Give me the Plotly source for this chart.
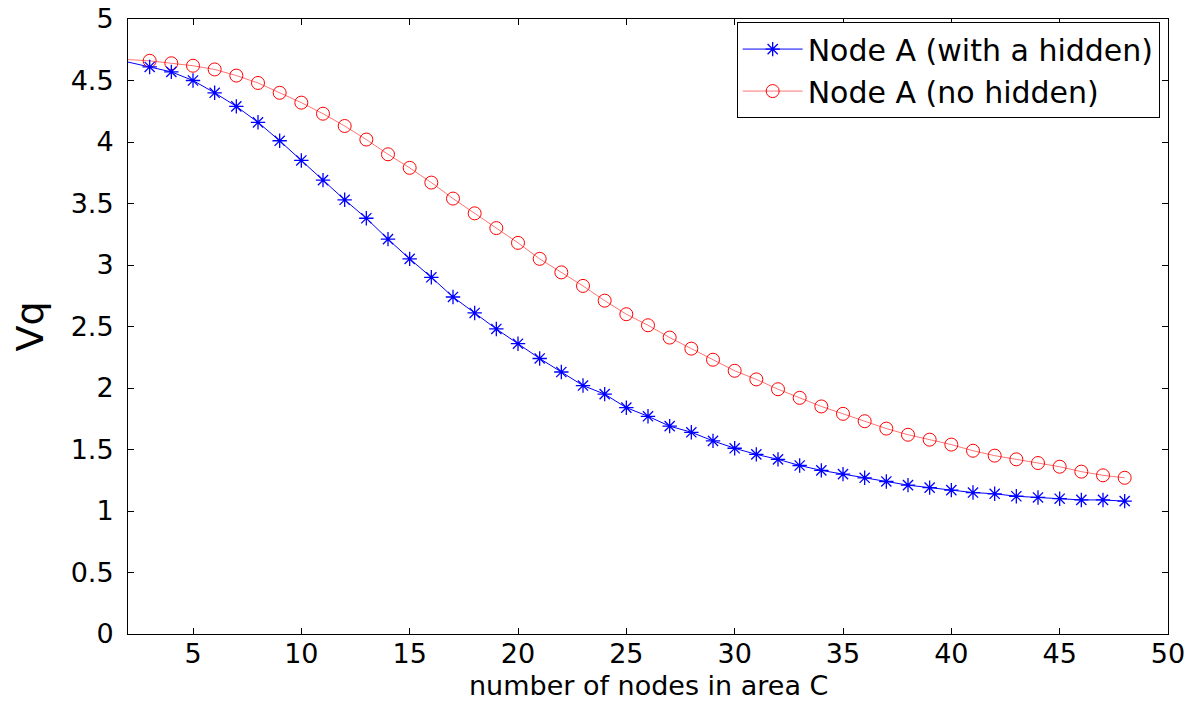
import plotly.graph_objects as go

# ---- data ----
nodes = list(range(3, 49))
with_hidden = [4.61, 4.57, 4.50, 4.40, 4.29, 4.16, 4.01, 3.85, 3.69, 3.53,
               3.38, 3.21, 3.05, 2.90, 2.74, 2.61, 2.48, 2.36, 2.24, 2.13,
               2.02, 1.95, 1.84, 1.77, 1.69, 1.64, 1.57, 1.51, 1.46, 1.42,
               1.37, 1.33, 1.30, 1.27, 1.24, 1.21, 1.19, 1.17, 1.15, 1.14,
               1.12, 1.11, 1.10, 1.09, 1.09, 1.08]
no_hidden = [4.66, 4.64, 4.62, 4.59, 4.54, 4.48, 4.40, 4.32, 4.23, 4.13,
             4.02, 3.90, 3.79, 3.67, 3.54, 3.42, 3.30, 3.18, 3.05, 2.94,
             2.83, 2.71, 2.60, 2.51, 2.41, 2.32, 2.23, 2.14, 2.07, 1.99,
             1.92, 1.85, 1.79, 1.73, 1.67, 1.62, 1.58, 1.54, 1.49, 1.45,
             1.42, 1.39, 1.36, 1.32, 1.29, 1.27]
# line start at the left edge of the axis (x = 2)
line_start_x = 2
with_hidden_start = 4.65
no_hidden_start = 4.67

x_ticks = [5, 10, 15, 20, 25, 30, 35, 40, 45, 50]
y_ticks = [0, 0.5, 1, 1.5, 2, 2.5, 3, 3.5, 4, 4.5, 5]
y_tick_text = ["0", "0.5", "1", "1.5", "2", "2.5", "3", "3.5", "4", "4.5", "5"]

names = ["Node A (with a hidden)", "Node A (no hidden)"]
x_title = "number of nodes in area C"
y_title = "Vq"

FONT = "DejaVu Sans"
BLUE = "#0000ff"
RED = "#ff0000"
RED_LINE = "rgba(255,0,0,0.55)"

fig = go.Figure()

# short leading segments (no markers) from x=2 to the first point
fig.add_trace(go.Scatter(x=[line_start_x, nodes[0]], y=[no_hidden_start, no_hidden[0]],
                         mode="lines", line=dict(color=RED_LINE, width=1),
                         showlegend=False, hoverinfo="skip"))
fig.add_trace(go.Scatter(x=[line_start_x, nodes[0]], y=[with_hidden_start, with_hidden[0]],
                         mode="lines", line=dict(color=BLUE, width=1),
                         showlegend=False, hoverinfo="skip"))

fig.add_trace(go.Scatter(x=nodes, y=no_hidden, mode="lines+markers", name=names[1],
                         line=dict(color=RED_LINE, width=1),
                         marker=dict(symbol="circle-open", size=13, color=RED,
                                     line=dict(color=RED, width=1))))
fig.add_trace(go.Scatter(x=nodes, y=with_hidden, mode="lines+markers", name=names[0],
                         line=dict(color=BLUE, width=1),
                         marker=dict(symbol="asterisk-open", size=12, color=BLUE,
                                     line=dict(color=BLUE, width=1.3))))

axis_common = dict(showline=True, linecolor="black", linewidth=1, mirror="allticks",
                   ticks="inside", ticklen=6, tickcolor="black", tickwidth=1,
                   showgrid=False, zeroline=False, automargin=False,
                   tickfont=dict(family=FONT, size=27, color="black"))

fig.update_xaxes(range=[2, 50], tickvals=x_ticks, ticktext=[str(v) for v in x_ticks],
                 ticklabelstandoff=-4,
                 **axis_common)
fig.update_yaxes(range=[0, 5], tickvals=y_ticks, ticktext=y_tick_text,
                 ticklabelstandoff=8,
                 title=dict(text=y_title,
                            font=dict(family=FONT, size=38, color="black")),
                 **axis_common)

fig.add_annotation(text=x_title, xref="paper", yref="paper", x=0.5, y=-0.083,
                   xanchor="center", yanchor="middle", showarrow=False,
                   font=dict(family=FONT, size=27, color="black"))

fig.update_layout(
    width=1198, height=703,
    margin=dict(l=128, r=30, t=19, b=69),
    paper_bgcolor="white", plot_bgcolor="white",
    legend=dict(x=0.992, y=0.995, xanchor="right", yanchor="top",
                bgcolor="white", bordercolor="black", borderwidth=1,
                traceorder="reversed",
                font=dict(family=FONT, size=30, color="black"),
                itemwidth=60, tracegroupgap=0),
    font=dict(family=FONT, color="black"),
)

fig.write_html("out.html")
